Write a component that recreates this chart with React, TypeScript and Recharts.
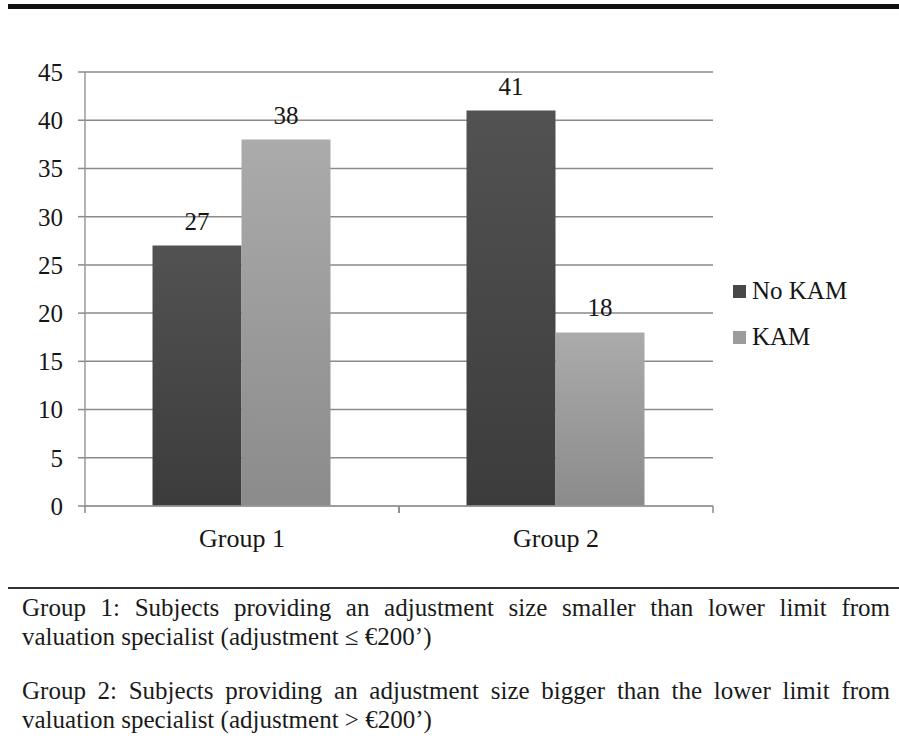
import React from "react";
import {
  BarChart,
  Bar,
  XAxis,
  YAxis,
  CartesianGrid,
  Legend,
  LabelList,
} from "recharts";

const categories = ["Group 1", "Group 2"];
const noKam = [27, 41];
const kam = [38, 18];
const yTicks = [0, 5, 10, 15, 20, 25, 30, 35, 40, 45];

const notes = [
  [
    "Group 1: Subjects providing an adjustment size smaller than lower limit from",
    "valuation specialist (adjustment \u2264 \u20ac200\u2019)",
  ],
  [
    "Group 2: Subjects providing an adjustment size bigger than the lower limit from",
    "valuation specialist (adjustment > \u20ac200\u2019)",
  ],
];

const SERIES = [
  { key: "noKam", name: "No KAM", top: "#525252", bottom: "#3c3c3c", swatch: "#484848" },
  { key: "kam", name: "KAM", top: "#ababab", bottom: "#8b8b8b", swatch: "#9c9c9c" },
];

const FONT = '"Liberation Serif", "Times New Roman", serif';

const data = categories.map((c, i) => ({
  name: c,
  noKam: noKam[i],
  kam: kam[i],
}));

function GroupTick(props: any) {
  const { x, y, payload } = props;
  const half = payload && payload.offset ? payload.offset : 157;
  return (
    <g>
      <line x1={x - half} x2={x - half} y1={y - 7} y2={y} stroke="#8a8a8a" strokeWidth={1.5} />
      <line x1={x + half} x2={x + half} y1={y - 7} y2={y} stroke="#8a8a8a" strokeWidth={1.5} />
      <text
        x={x}
        y={y + 34}
        textAnchor="middle"
        fontSize={26}
        fontFamily={FONT}
        fill="#161616"
      >
        {payload.value}
      </text>
    </g>
  );
}

function LegendBox(props: any) {
  const items = [...(props.payload || [])].sort(
    (a: any, b: any) =>
      SERIES.findIndex((s) => s.key === a.dataKey) -
      SERIES.findIndex((s) => s.key === b.dataKey)
  );
  return (
    <div style={{ fontFamily: FONT, fontSize: 25, color: "#161616" }}>
      {items.map((it: any) => {
        const s = SERIES.find((d) => d.key === it.dataKey);
        return (
          <div
            key={it.value}
            style={{ display: "flex", alignItems: "center", height: 46 }}
          >
            <span
              style={{
                display: "inline-block",
                width: 13,
                height: 13,
                background: s ? s.swatch : "#888",
                marginRight: 6,
              }}
            />
            <span>{it.value}</span>
          </div>
        );
      })}
    </div>
  );
}

export default function App() {
  return (
    <div
      style={{
        position: "absolute",
        left: 0,
        top: 0,
        width: 899,
        height: 756,
        background: "#fff",
        overflow: "hidden",
        fontFamily: FONT,
      }}
    >
      <div
        style={{
          position: "absolute",
          left: 8,
          top: 4,
          width: 891,
          height: 5,
          background: "#111",
        }}
      />
      <div style={{ position: "absolute", left: 0, top: 0 }}>
        <BarChart
          width={899}
          height={580}
          data={data}
          margin={{ top: 72, right: 186, left: 0, bottom: 24 }}
          barCategoryGap="21.5%"
          barGap={0}
        >
          <defs>
            {SERIES.map((s) => (
              <linearGradient key={s.key} id={"grad-" + s.key} x1="0" y1="0" x2="0" y2="1">
                <stop offset="0%" stopColor={s.top} />
                <stop offset="100%" stopColor={s.bottom} />
              </linearGradient>
            ))}
          </defs>
          <CartesianGrid vertical={false} stroke="#8a8a8a" strokeWidth={1.5} />
          <XAxis
            dataKey="name"
            height={50}
            axisLine={{ stroke: "#9a9a9a", strokeWidth: 1.5 }}
            tickLine={false}
            tickSize={7}
            tickMargin={0}
            tick={<GroupTick />}
            interval={0}
          />
          <YAxis
            width={85}
            domain={[0, 45]}
            ticks={yTicks}
            interval={0}
            axisLine={{ stroke: "#9a9a9a", strokeWidth: 1.5 }}
            tickLine={{ stroke: "#8a8a8a", strokeWidth: 1.5 }}
            tickSize={7}
            tickMargin={15}
            tick={{ fontSize: 25, fontFamily: FONT, fill: "#161616" }}
          />
          <Legend
            layout="horizontal"
            verticalAlign="middle"
            align="center"
            content={<LegendBox />}
            wrapperStyle={{ left: 733, top: 268, width: 160 }}
          />
          {SERIES.map((s) => (
            <Bar
              key={s.key}
              dataKey={s.key}
              name={s.name}
              fill={"url(#grad-" + s.key + ")"}
              isAnimationActive={false}
            >
              <LabelList
                dataKey={s.key}
                position="top"
                offset={16}
                fontSize={25}
                fontFamily={FONT}
                fill="#161616"
              />
            </Bar>
          ))}
        </BarChart>
      </div>
      <div
        style={{
          position: "absolute",
          left: 8,
          top: 587,
          width: 891,
          height: 2,
          background: "#333",
        }}
      />
      <div
        style={{
          position: "absolute",
          left: 22,
          top: 593,
          width: 868,
          fontSize: 25,
          lineHeight: "29px",
          color: "#1a1a1a",
        }}
      >
        {notes.map((p, i) => (
          <div key={i} style={{ marginBottom: i === 0 ? 25 : 0 }}>
            <div style={{ textAlign: "justify", textAlignLast: "justify", whiteSpace: "nowrap" as any }}>
              {p[0]}
            </div>
            <div>{p[1]}</div>
          </div>
        ))}
      </div>
    </div>
  );
}
